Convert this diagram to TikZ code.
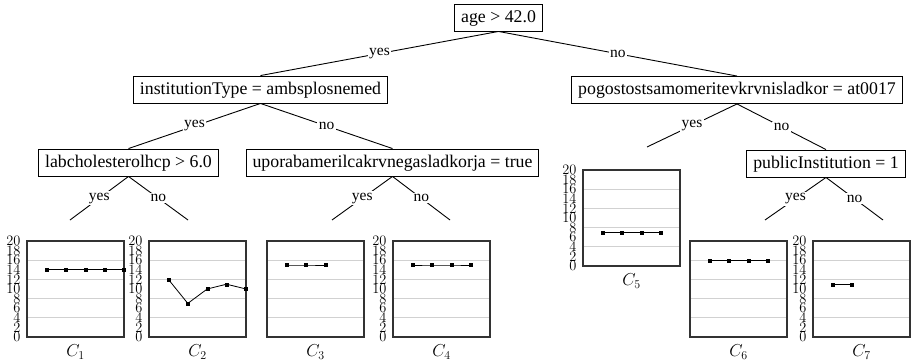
\documentclass[tikz,border=0pt]{standalone}
\usepackage[no-math]{fontspec}
\setmainfont{Liberation Serif}
\usetikzlibrary{plotmarks}

\tikzset{
  split/.style={draw=black, line width=0.9pt, fill=white,
    font=\fontsize{17.8}{20}\selectfont,
    inner xsep=6.5pt, inner ysep=5pt, text height=13pt, text depth=4pt},
  branch/.style={draw=black, line width=0.9pt},
  edgelabel/.style={fill=white, inner sep=1.5pt,
    font=\fontsize{15.5}{17}\selectfont},
  frame/.style={draw=black!80, line width=1.1pt},
  gridline/.style={draw=black!18, line width=0.9pt},
  dataline/.style={draw=black, line width=0.8pt},
  ticklabel/.style={anchor=east, inner sep=0pt,
    font=\fontsize{14}{14}\selectfont},
  caption/.style={inner sep=0pt, font=\fontsize{17.8}{20}\selectfont},
}

% Leaf chart: #1 name, #2 left, #3 top, #4 show y ticks (1/0),
% #5 data coordinates (slot, value), #6 caption
\newcommand{\leafchart}[6]{%
  \begin{scope}[shift={(#2,{#3+96})}, x=19.4pt, y=4.8pt]
    \foreach \g in {4,8,12,16} \draw[gridline] (0,\g) -- (5,\g);
    \draw[frame] (0,0) rectangle (5,20);
    \ifnum#4=1
      \foreach \t in {0,2,...,20}
        \node[ticklabel] (#1-t\t) at (-0.33,\t) {$\t$};
    \fi
    \draw[dataline] plot[mark=square*, mark size=1.5pt,
      mark options={fill=black, line width=0.4pt}] coordinates {#5};
    \node[caption] (#1-cap) at (2.5,-3.1) {$#6$};
  \end{scope}}

\begin{document}
\begin{tikzpicture}[x=1pt,y=-1pt]
\useasboundingbox (0,0) rectangle (911,364);

% split nodes
\node[split] (root)  at (498.5,17.5) {age > 42.0};
\node[split] (inst)  at (260.5,89.5) {institutionType = ambsplosnemed};
\node[split] (pogo)  at (737,90)     {pogostostsamomeritevkrvnisladkor = at0017};
\node[split] (chol)  at (128.5,162.5){labcholesterolhcp > 6.0};
\node[split] (upor)  at (392.5,162.5){uporabamerilcakrvnegasladkorja = true};
\node[split] (pub)   at (826,163.5)  {publicInstitution = 1};

% open ends of the branches leading to leaves
\coordinate (pogoyes) at (647,147);
\coordinate (cholyes) at (70,220);
\coordinate (cholno)  at (188,220);
\coordinate (uporyes) at (332,220);
\coordinate (uporno)  at (450,220);
\coordinate (pubyes)  at (765,220);
\coordinate (pubno)   at (883,220);

% branches
\draw[branch] (root.south) -- node[edgelabel] {yes} (inst.north);
\draw[branch] (root.south) -- node[edgelabel] {no}  (pogo.north);
\draw[branch] (inst.south) -- node[edgelabel] {yes} (chol.north);
\draw[branch] (inst.south) -- node[edgelabel] {no}  (upor.north);
\draw[branch] (pogo.south) -- node[edgelabel] {yes} (pogoyes);
\draw[branch] (pogo.south) -- node[edgelabel] {no}  (pub.north);
\draw[branch] (chol.south) -- node[edgelabel] {yes} (cholyes);
\draw[branch] (chol.south) -- node[edgelabel] {no}  (cholno);
\draw[branch] (upor.south) -- node[edgelabel] {yes} (uporyes);
\draw[branch] (upor.south) -- node[edgelabel] {no}  (uporno);
\draw[branch] (pub.south)  -- node[edgelabel] {yes} (pubyes);
\draw[branch] (pub.south)  -- node[edgelabel] {no}  (pubno);

% leaf charts
\leafchart{c1}{27}{241}{1}{(1,14) (2,14) (3,14) (4,14) (5,14)}{C_1}
\leafchart{c2}{149}{241}{1}{(1,12) (2,7) (3,10) (4,11) (5,10)}{C_2}
\leafchart{c3}{267}{241}{0}{(1,15) (2,15) (3,15)}{C_3}
\leafchart{c4}{393}{241}{1}{(1,15) (2,15) (3,15) (4,15)}{C_4}
\leafchart{c5}{583}{170}{1}{(1,7) (2,7) (3,7) (4,7)}{C_5}
\leafchart{c6}{690}{241}{0}{(1,16) (2,16) (3,16) (4,16)}{C_6}
\leafchart{c7}{813}{241}{1}{(1,11) (2,11)}{C_7}

\end{tikzpicture}
\end{document}
